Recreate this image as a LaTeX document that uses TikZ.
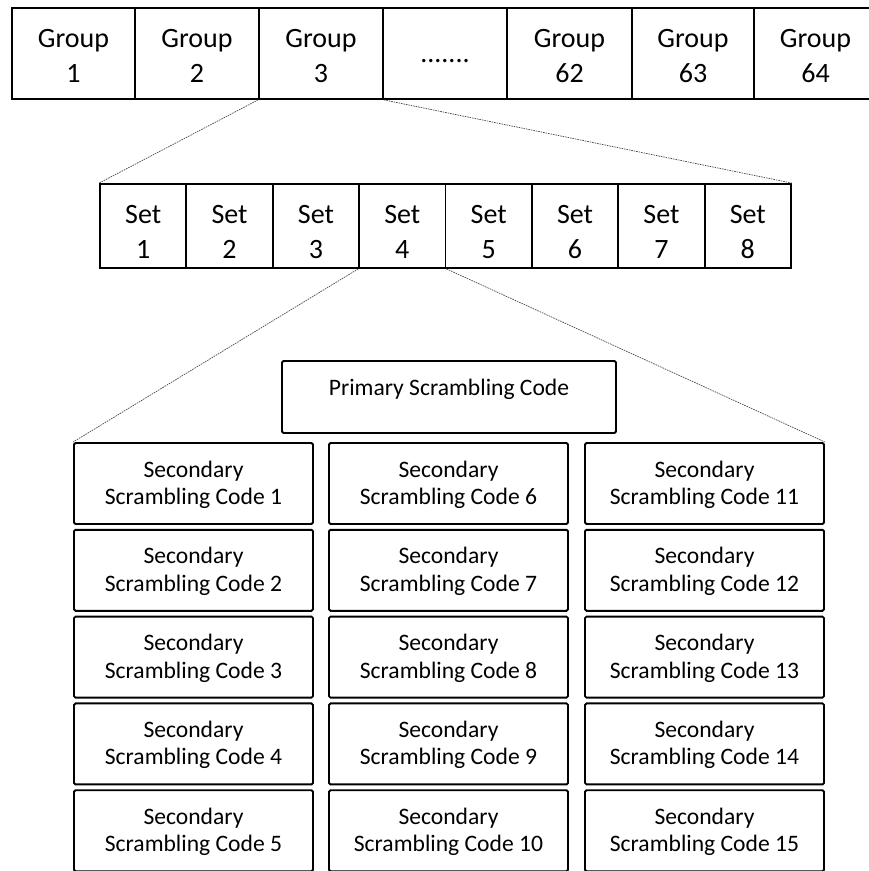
\documentclass[tikz,border=0pt]{standalone}
\usepackage{fontspec}
\setmainfont{Carlito}
% two centred lines with fixed top height and bottom depth,
% so every cell puts its baselines at the same place
\newcommand\twoline[4]{\rule{0pt}{#1}#3\\#4\rule[-#2]{0pt}{#2}}
\begin{document}
\begin{tikzpicture}[x=1pt,y=-1pt,
  cell/.style={draw, line width=1.8pt, inner sep=0pt, align=center,
    font=\fontsize{28}{35}\selectfont},
  groupcell/.style={cell, minimum height=91pt},
  setcell/.style={cell, minimum width=86.4pt, minimum height=84pt},
  codebox/.style={draw, line width=1.9pt, rounded corners=1.5pt, inner sep=0pt,
    minimum width=239pt, minimum height=81pt, align=center,
    font=\fontsize{23.6}{27.5}\selectfont},
  zoomline/.style={line width=0.7pt, black!70, dash pattern=on 1.6pt off 0.9pt}]
\useasboundingbox (0,0) rectangle (869,871);

% row of groups
\node[groupcell, minimum width=123pt] (g1)   at (73.5,53.5)  {\twoline{24pt}{2pt}{Group}{1}};
\node[groupcell, minimum width=124pt] (g2)   at (197,53.5)   {\twoline{24pt}{2pt}{Group}{2}};
\node[groupcell, minimum width=124pt] (g3)   at (321,53.5)   {\twoline{24pt}{2pt}{Group}{3}};
\node[groupcell, minimum width=124pt] (gdot) at (445,53.5)   {\rule{0pt}{20pt}.......\rule[-3pt]{0pt}{3pt}};
\node[groupcell, minimum width=125pt] (g62)  at (569.5,53.5) {\twoline{24pt}{2pt}{Group}{62}};
\node[groupcell, minimum width=122pt] (g63)  at (693,53.5)   {\twoline{24pt}{2pt}{Group}{63}};
\node[groupcell, minimum width=123pt] (g64)  at (815.5,53.5) {\twoline{24pt}{2pt}{Group}{64}};

% sets inside one group
\foreach \i in {1,...,8}
  \node[setcell] (s\i) at ({100+86.375*(\i-0.5)},226) {\twoline{31pt}{2pt}{Set}{\i}};

% codes inside one set
\node[draw, line width=1.9pt, rounded corners=1.5pt, minimum width=334pt,
  minimum height=72pt, inner sep=0pt] (prim) at (449,397) {};
\node[anchor=base, inner sep=0pt, font=\fontsize{23.6}{27.5}\selectfont]
  (primtext) at (449,395) {Primary Scrambling Code};

\foreach \c/\x in {1/193.5, 2/448.5, 3/704.5}
  \foreach \r in {1,...,5} {
    \pgfmathtruncatemacro{\n}{5*(\c-1)+\r}
    \node[codebox] (c\n) at (\x,{483.5+86.8*(\r-1)})
      {\twoline{21pt}{6.5pt}{Secondary}{Scrambling Code \n}};
  }

% zoom connectors
\draw[zoomline] (g3.south west) -- (s1.north west);
\draw[zoomline] (g3.south east) -- (s8.north east);
\draw[zoomline] (s4.south west) -- (c1.north west);
\draw[zoomline] (s4.south east) -- (c11.north east);
\end{tikzpicture}
\end{document}
